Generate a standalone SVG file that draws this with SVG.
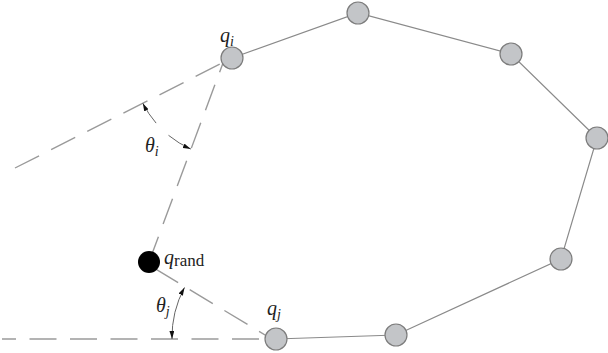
<svg xmlns="http://www.w3.org/2000/svg" width="608" height="353" viewBox="0 0 608 353">
<defs>
<marker id="arr" viewBox="0 0 10 6" refX="10" refY="3" markerWidth="8" markerHeight="5" markerUnits="userSpaceOnUse" orient="auto-start-reverse">
<path d="M0,0 L10,3 L0,6 Z" fill="#111"/>
</marker>
<style>
.edge{stroke:#8a8a8a;stroke-width:1.2;fill:none}
.dash{stroke:#9a9a9a;stroke-width:1.4;fill:none;stroke-dasharray:27 13.5}
.arc{stroke:#666;stroke-width:1;fill:none}
.node{fill:#c3c5c8;stroke:#7c7c7c;stroke-width:1.2}
.lbl{font-family:"Liberation Serif",serif;font-style:italic;font-size:20px;fill:#222}
.sub{font-size:14px}
.rom{font-style:normal;font-size:17px}
</style>
</defs>
<g id="connectors">
<polyline class="edge" points="232,58 358,13 511,54 597,138 561,259 396,335 276,339"/>
<line class="dash" x1="2" y1="339" x2="276" y2="339" stroke-dashoffset="13"/>
<line class="dash" x1="15" y1="168" x2="232" y2="58"/>
<line class="dash" x1="149" y1="262" x2="226" y2="55"/>
<line class="dash" x1="155" y1="268.7" x2="270" y2="338"/>
<path class="arc" d="M156.1,123.1 A100,100 0 0 1 142.8,103.2" marker-end="url(#arr)"/>
<path class="arc" d="M168.5,135.3 A100,100 0 0 0 190.8,149.1" marker-end="url(#arr)"/>
<path class="arc" d="M172,339 A105,105 0 0 1 184.5,287.5" marker-start="url(#arr)" marker-end="url(#arr)"/>
</g>
<g id="n_qi"><circle class="node" cx="232" cy="58" r="11"/><text class="lbl" x="220" y="42">q<tspan class="sub" dy="4">i</tspan></text></g>
<g id="n1"><circle class="node" cx="358" cy="13" r="11"/></g>
<g id="n2"><circle class="node" cx="511" cy="54" r="11"/></g>
<g id="n3"><circle class="node" cx="597" cy="138" r="11"/></g>
<g id="n4"><circle class="node" cx="561" cy="259" r="11"/></g>
<g id="n5"><circle class="node" cx="396" cy="335" r="11"/></g>
<g id="n_qj"><circle class="node" cx="276" cy="339" r="11"/><text class="lbl" x="267" y="315">q<tspan class="sub" dy="4">j</tspan></text></g>
<g id="n_qrand"><circle cx="149" cy="262" r="11" fill="#000"/><text class="lbl" x="164" y="264">q<tspan class="rom" dy="2">rand</tspan></text></g>
<g id="theta_i"><text class="lbl" x="145" y="152">θ<tspan class="sub" dy="4">i</tspan></text></g>
<g id="theta_j"><text class="lbl" x="156" y="312">θ<tspan class="sub" dy="4">j</tspan></text></g>
</svg>
